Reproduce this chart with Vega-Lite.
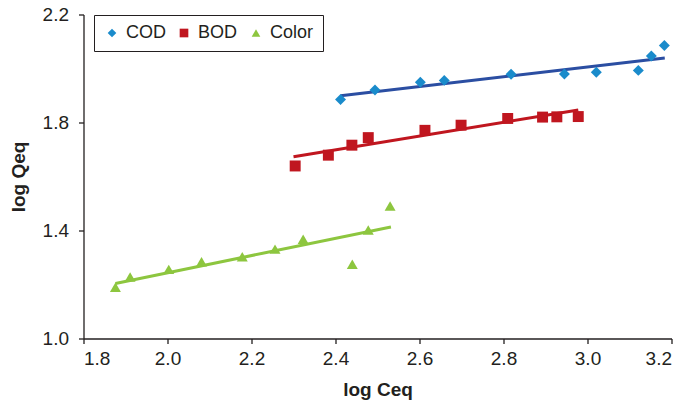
{
  "$schema": "https://vega.github.io/schema/vega-lite/v6.json",
  "autosize": {"type": "none"},
  "width": 588,
  "height": 324,
  "padding": {"left": 83.5, "top": 14.5, "right": 16.5, "bottom": 68.5},
  "background": "white",
  "config": {
    "font": "Liberation Sans",
    "view": {"stroke": null},
    "axis": {
      "grid": false,
      "domainColor": "#231F20",
      "tickColor": "#231F20",
      "domainWidth": 1.3,
      "tickWidth": 1.3,
      "tickSize": 5,
      "labelFont": "Liberation Sans",
      "labelFontSize": 19,
      "labelColor": "#231F20",
      "titleFont": "Liberation Sans",
      "titleFontSize": 19,
      "titleFontWeight": "bold",
      "titleColor": "#231F20"
    }
  },
  "datasets": {
    "pts": [
      {"s": "COD", "x": 2.412, "y": 1.885},
      {"s": "COD", "x": 2.494, "y": 1.920},
      {"s": "COD", "x": 2.602, "y": 1.949},
      {"s": "COD", "x": 2.659, "y": 1.956},
      {"s": "COD", "x": 2.818, "y": 1.979},
      {"s": "COD", "x": 2.945, "y": 1.980},
      {"s": "COD", "x": 3.021, "y": 1.986},
      {"s": "COD", "x": 3.121, "y": 1.993},
      {"s": "COD", "x": 3.152, "y": 2.046},
      {"s": "COD", "x": 3.183, "y": 2.085},
      {"s": "BOD", "x": 2.304, "y": 1.639},
      {"s": "BOD", "x": 2.383, "y": 1.679},
      {"s": "BOD", "x": 2.439, "y": 1.716},
      {"s": "BOD", "x": 2.478, "y": 1.744},
      {"s": "BOD", "x": 2.613, "y": 1.771},
      {"s": "BOD", "x": 2.699, "y": 1.790},
      {"s": "BOD", "x": 2.810, "y": 1.815},
      {"s": "BOD", "x": 2.893, "y": 1.820},
      {"s": "BOD", "x": 2.927, "y": 1.821},
      {"s": "BOD", "x": 2.978, "y": 1.822},
      {"s": "Color", "x": 1.876, "y": 1.190},
      {"s": "Color", "x": 1.911, "y": 1.228},
      {"s": "Color", "x": 2.003, "y": 1.256},
      {"s": "Color", "x": 2.081, "y": 1.284},
      {"s": "Color", "x": 2.178, "y": 1.303},
      {"s": "Color", "x": 2.256, "y": 1.331},
      {"s": "Color", "x": 2.323, "y": 1.368},
      {"s": "Color", "x": 2.440, "y": 1.275},
      {"s": "Color", "x": 2.478, "y": 1.402},
      {"s": "Color", "x": 2.530, "y": 1.491}
    ],
    "fit": [
      {"s": "COD", "x": 2.412, "y": 1.899},
      {"s": "COD", "x": 3.184, "y": 2.039},
      {"s": "BOD", "x": 2.300, "y": 1.673},
      {"s": "BOD", "x": 2.978, "y": 1.846},
      {"s": "Color", "x": 1.876, "y": 1.204},
      {"s": "Color", "x": 2.532, "y": 1.413}
    ]
  },
  "encoding": {
    "x": {
      "field": "x", "type": "quantitative",
      "scale": {"domain": [1.8, 3.2], "nice": false, "zero": false},
      "axis": {"values": [1.8, 2.0, 2.2, 2.4, 2.6, 2.8, 3.0, 3.2], "format": ".1f", "title": "log Ceq", "titlePadding": 12, "labelPadding": 6}
    },
    "y": {
      "field": "y", "type": "quantitative",
      "scale": {"domain": [1.0, 2.2], "nice": false, "zero": false},
      "axis": {"values": [1.0, 1.4, 1.8, 2.2], "format": ".1f", "title": "log Qeq", "titlePadding": 14, "labelPadding": 10}
    }
  },
  "layer": [
    {
      "data": {"name": "fit"},
      "transform": [{"filter": "datum.s === 'COD'"}],
      "mark": {"type": "line", "strokeWidth": 3, "color": "#2B4EA2"},
      "encoding": {}
    },
    {
      "data": {"name": "fit"},
      "transform": [{"filter": "datum.s === 'BOD'"}],
      "mark": {"type": "line", "strokeWidth": 3, "color": "#C0161F"},
      "encoding": {}
    },
    {
      "data": {"name": "fit"},
      "transform": [{"filter": "datum.s === 'Color'"}],
      "mark": {"type": "line", "strokeWidth": 3, "color": "#8DC63F"},
      "encoding": {}
    },
    {
      "data": {"name": "pts"},
      "mark": {"type": "point", "filled": true, "opacity": 1, "size": 120},
      "encoding": {
        "color": {
          "field": "s", "type": "nominal",
          "scale": {"domain": ["COD", "BOD", "Color"], "range": ["#1A8BCB", "#C0161F", "#8DC63F"]},
          "legend": {
            "title": null,
            "orient": "none",
            "legendX": 10.5,
            "legendY": 0.5,
            "direction": "horizontal",
            "strokeColor": "#231F20",
            "padding": 9,
            "labelFontSize": 18,
            "labelColor": "#231F20",
            "symbolSize": 75,
            "columnPadding": 9,
            "labelOffset": 5
          }
        },
        "shape": {
          "field": "s", "type": "nominal",
          "scale": {"domain": ["COD", "BOD", "Color"], "range": ["diamond", "square", "triangle-up"]},
          "legend": {
            "title": null,
            "orient": "none",
            "legendX": 10.5,
            "legendY": 0.5,
            "direction": "horizontal",
            "strokeColor": "#231F20",
            "padding": 9,
            "labelFontSize": 18,
            "labelColor": "#231F20",
            "symbolSize": 75,
            "columnPadding": 9,
            "labelOffset": 5
          }
        }
      }
    }
  ]
}
